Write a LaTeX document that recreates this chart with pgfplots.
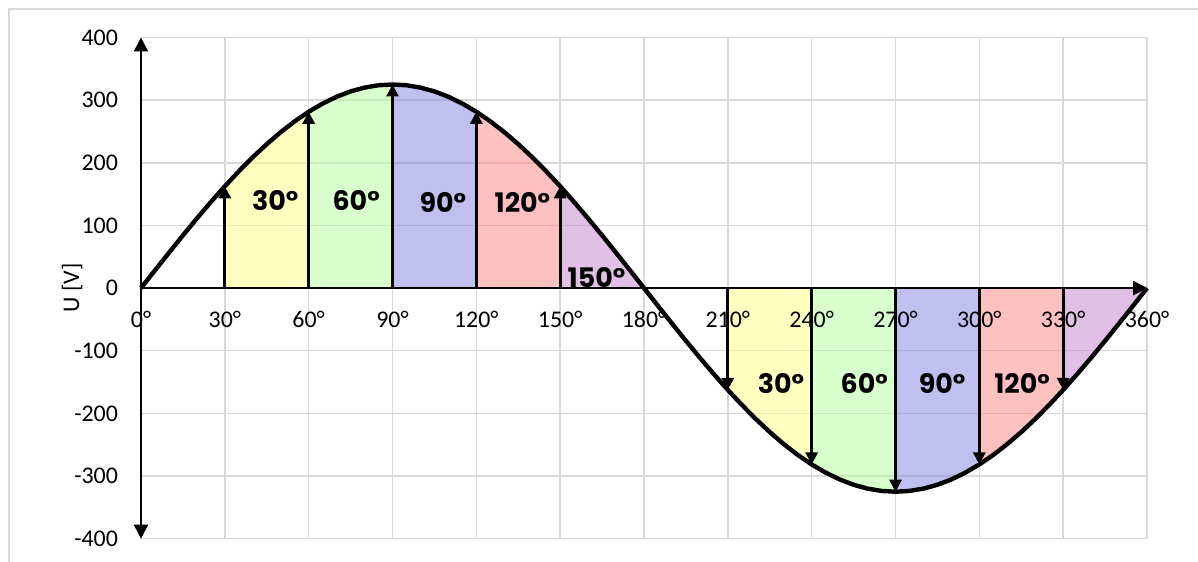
\documentclass[border=0pt]{standalone}
\usepackage{pgfplots}
\usepackage{pgfplotstable}
\pgfplotsset{compat=1.18}
\usepgfplotslibrary{fillbetween}
\usetikzlibrary{arrows.meta}
\usepackage{fontspec}
\setmainfont{Carlito}
\newfontfamily\deco{Poppins}
\definecolor{gridc}{RGB}{217,217,217}
\definecolor{cyel}{RGB}{255,255,129}
\definecolor{cgrn}{RGB}{179,255,153}
\definecolor{cblu}{RGB}{129,129,225}
\definecolor{cred}{RGB}{255,129,129}
\definecolor{cpur}{RGB}{193,129,201}

\pgfplotstableread{
x y
0 0
5 28.33
10 56.44
15 84.12
20 111.16
25 137.35
30 162.50
35 186.41
40 208.91
45 229.81
50 248.96
55 266.22
60 281.46
65 294.55
70 305.40
75 313.93
80 320.06
85 323.76
90 325.00
95 323.76
100 320.06
105 313.93
110 305.40
115 294.55
120 281.46
125 266.22
130 248.96
135 229.81
140 208.91
145 186.41
150 162.50
155 137.35
160 111.16
165 84.12
170 56.44
175 28.33
180 0
185 -28.33
190 -56.44
195 -84.12
200 -111.16
205 -137.35
210 -162.50
215 -186.41
220 -208.91
225 -229.81
230 -248.96
235 -266.22
240 -281.46
245 -294.55
250 -305.40
255 -313.93
260 -320.06
265 -323.76
270 -325.00
275 -323.76
280 -320.06
285 -313.93
290 -305.40
295 -294.55
300 -281.46
305 -266.22
310 -248.96
315 -229.81
320 -208.91
325 -186.41
330 -162.50
335 -137.35
340 -111.16
345 -84.12
350 -56.44
355 -28.33
360 0
}\sinedata

\pgfplotstableread{
x y
30 162.50
60 281.46
90 325.00
120 281.46
150 162.50
210 -162.50
240 -281.46
270 -325.00
300 -281.46
330 -162.50
}\arrowdata

\begin{document}
\begin{tikzpicture}
\begin{axis}[
  at={(0,0)}, anchor=south west,
  scale only axis, width=503bp, height=250.6bp,
  xmin=0, xmax=360, ymin=-400, ymax=400, enlargelimits=false,
  axis lines=middle,
  axis line style={black, line width=1bp},
  x axis line style={-{Triangle[length=7bp,width=7bp]}},
  y axis line style={{Triangle[length=7bp,width=7bp]}-{Triangle[length=7bp,width=7bp]}},
  hide obscured x ticks=false, hide obscured y ticks=false,
  xtick={0,30,...,360},
  xticklabels={0°,30°,60°,90°,120°,150°,180°,210°,240°,270°,300°,330°,360°},
  ytick={-400,-300,...,400},
  yticklabels={-400,-300,-200,-100,0,100,200,300,400},
  major tick length=0pt,
  grid=major, grid style={gridc, line width=0.75bp},
  tick label style={font=\fontsize{12}{14}\selectfont},
  xticklabel style={yshift=-8bp},
  yticklabel style={xshift=-8bp},
  clip=false,
]
\addplot[draw=none, name path=zero] coordinates {(0,0) (360,0)};
\addplot[draw=none, name path=curve, forget plot] table[x=x,y=y] {\sinedata};

\addplot[fill=cyel, fill opacity=0.5, draw=none] fill between[of=curve and zero, soft clip={domain=30:60}];
\addplot[fill=cgrn, fill opacity=0.5, draw=none] fill between[of=curve and zero, soft clip={domain=60:90}];
\addplot[fill=cblu, fill opacity=0.5, draw=none] fill between[of=curve and zero, soft clip={domain=90:120}];
\addplot[fill=cred, fill opacity=0.5, draw=none] fill between[of=curve and zero, soft clip={domain=120:150}];
\addplot[fill=cpur, fill opacity=0.5, draw=none] fill between[of=curve and zero, soft clip={domain=150:180}];
\addplot[fill=cyel, fill opacity=0.5, draw=none] fill between[of=curve and zero, soft clip={domain=210:240}];
\addplot[fill=cgrn, fill opacity=0.5, draw=none] fill between[of=curve and zero, soft clip={domain=240:270}];
\addplot[fill=cblu, fill opacity=0.5, draw=none] fill between[of=curve and zero, soft clip={domain=270:300}];
\addplot[fill=cred, fill opacity=0.5, draw=none] fill between[of=curve and zero, soft clip={domain=300:330}];
\addplot[fill=cpur, fill opacity=0.5, draw=none] fill between[of=curve and zero, soft clip={domain=330:360}];

% x axis redrawn over fills
\addplot[black, line width=1bp, -{Triangle[length=7bp,width=7bp]}] coordinates {(0,0) (360,0)};

% arrows
\foreach \i in {0,...,9} {
  \pgfplotstablegetelem{\i}{x}\of\arrowdata \let\ax\pgfplotsretval
  \pgfplotstablegetelem{\i}{y}\of\arrowdata \let\ay\pgfplotsretval
  \edef\tmp{\noexpand\addplot[black, line width=1.4bp, -{Triangle[length=6bp,width=6bp]}] coordinates {(\ax,0) (\ax,\ay)};}
  \tmp
}

\addplot[black, line width=2.2bp, line join=round] table[x=x,y=y] {\sinedata};

\begin{scope}[every node/.style={font=\deco\bfseries\fontsize{13.5}{14}\selectfont}]
\node at (axis cs:48,140) {30°};
\node at (axis cs:77,140) {60°};
\node at (axis cs:108,137) {90°};
\node at (axis cs:136.5,137) {120°};
\node at (axis cs:163,17) {150°};
\node at (axis cs:229,-152) {30°};
\node at (axis cs:258.8,-152) {60°};
\node at (axis cs:286.7,-152) {90°};
\node at (axis cs:315.3,-152) {120°};
\end{scope}
\node[rotate=90, font=\fontsize{12}{14}\selectfont] at ([xshift=-34.5bp]axis cs:0,0) {U [V]};
\end{axis}
\draw[gridc, line width=0.75bp] (-66bp,-11.65bp) -- (-66bp,264.85bp) -- (528.5bp,264.85bp);
\pgfresetboundingbox
\path[use as bounding box] (-70.5bp,-11.65bp) rectangle (528.5bp,269.35bp);
\end{tikzpicture}
\end{document}
